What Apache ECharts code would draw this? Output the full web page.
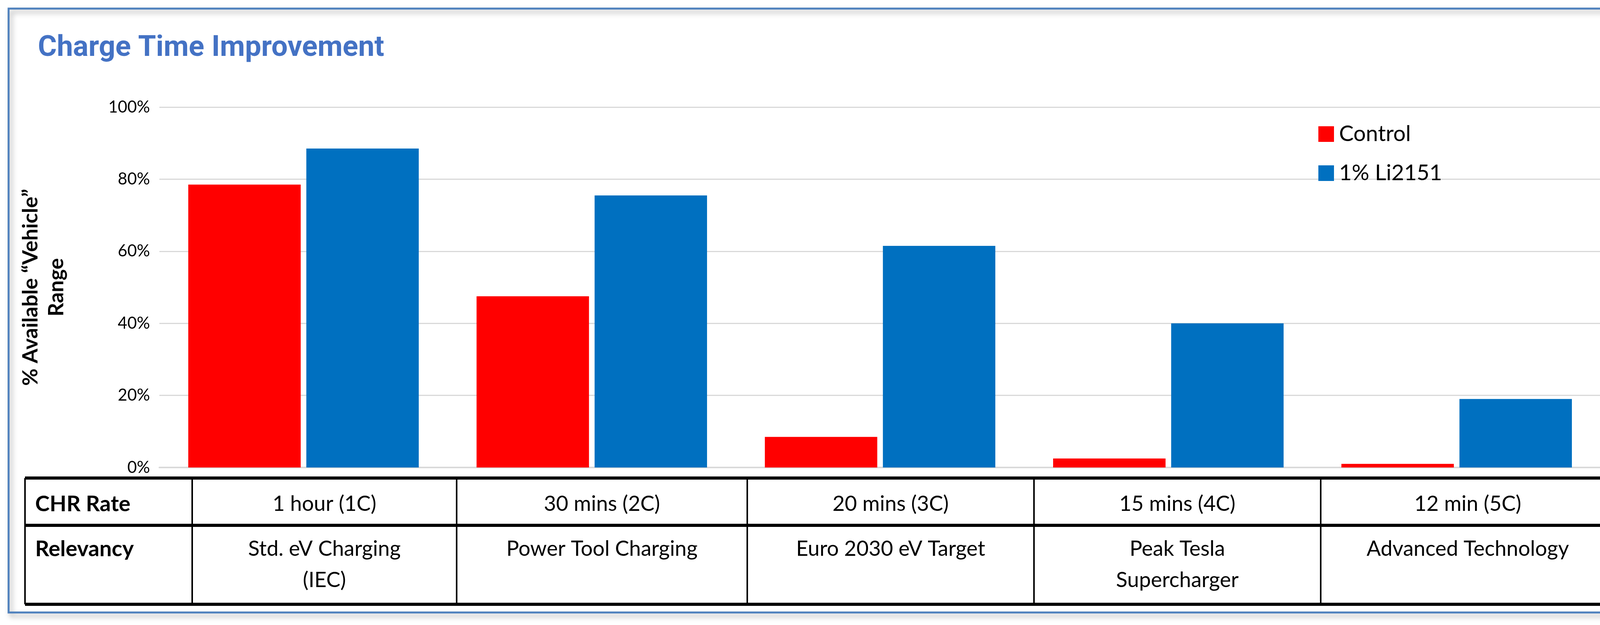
<!DOCTYPE html>
<html>
<head>
<meta charset="utf-8">
<script src="https://cdn.jsdelivr.net/npm/echarts@6/dist/echarts.min.js"></script>
<style>
  html, body { margin: 0; padding: 0; background: #fff; overflow: hidden; }
  #chart { width: 4214px; height: 1599px; }
</style>
</head>
<body>
<div id="chart"></div>
<script>
// 数据
const categories = ['1 hour (1C)', '30 mins (2C)', '20 mins (3C)', '15 mins (4C)', '12 min (5C)'];
const controlValues = [78.5, 47.5, 8.5, 2.5, 1];
const liValues = [88.5, 75.5, 61.5, 40, 19];
const yTicks = [0, 20, 40, 60, 80, 100];
const rowHeaders = ['CHR Rate', 'Relevancy'];
const relevancy = ['Std. eV Charging\n(IEC)', 'Power Tool Charging', 'Euro 2030 eV Target', 'Peak Tesla\nSupercharger', 'Advanced Technology'];

var chart = echarts.init(document.getElementById('chart'));

// 表格布局
const tblLeft = 64, tblRight = 4134, tblTop = 1223, tblMid = 1344, tblBottom = 1546;
const colX = [64, 492, 1169, 1913, 2647, 3381, 4134];
const font = 'Lato, "Open Sans", sans-serif';

var graphics = [
  // 外框
  { type: 'rect', shape: { x: 22, y: 22, width: 4160, height: 1545 },
    style: { fill: null, stroke: '#4f81bd', lineWidth: 5, shadowColor: 'rgba(0,0,0,0.35)', shadowBlur: 14, shadowOffsetX: 6, shadowOffsetY: 8 }, z: -1 }
];
[tblTop, tblMid, tblBottom].forEach(function (y) {
  graphics.push({ type: 'line', shape: { x1: tblLeft, y1: y, x2: tblRight, y2: y }, style: { stroke: '#000', lineWidth: 8 } });
});
colX.forEach(function (x) {
  graphics.push({ type: 'line', shape: { x1: x, y1: tblTop, x2: x, y2: tblBottom }, style: { stroke: '#000', lineWidth: 4 } });
});
rowHeaders.forEach(function (t, i) {
  graphics.push({ type: 'text', x: 90, y: i === 0 ? 1290 : 1405,
    style: { text: t, font: 'bold 56px ' + font, fill: '#000', verticalAlign: 'middle' } });
});
categories.forEach(function (c, i) {
  var cx = (colX[i + 1] + colX[i + 2]) / 2;
  graphics.push({ type: 'text', x: cx, y: 1290,
    style: { text: c, font: '54px ' + font, fill: '#000', align: 'center', verticalAlign: 'middle' } });
  graphics.push({ type: 'text', x: cx, y: 1365,
    style: { text: relevancy[i], font: '54px ' + font, fill: '#000', align: 'center', verticalAlign: 'top', lineHeight: 80 } });
});

const option = {
  title: {
    text: 'Charge Time Improvement', left: 92, top: 82,
    textStyle: { color: '#4472c4', fontSize: 74, fontWeight: 'bold', fontFamily: 'Roboto, sans-serif' }
  },
  legend: {
    orient: 'vertical', left: 3370, top: 310, itemWidth: 40, itemHeight: 40, itemGap: 44,
    icon: 'rect', textStyle: { fontSize: 56, fontFamily: font, color: '#000', padding: [0, 0, 0, 8] }
  },
  grid: { left: 408, right: 116, top: 274, bottom: 403 },
  xAxis: {
    type: 'category', data: categories,
    axisLine: { lineStyle: { color: '#d9d9d9', width: 4 } },
    axisTick: { show: false }, axisLabel: { show: false }
  },
  yAxis: {
    type: 'value', min: 0, max: 100, interval: 20,
    name: '% Available “Vehicle”\nRange', nameLocation: 'middle', nameGap: 230, nameRotate: 90,
    nameTextStyle: { fontSize: 54, fontWeight: 'bold', fontFamily: font, color: '#000', lineHeight: 66 },
    axisLabel: { formatter: function (v) { return yTicks.indexOf(v) >= 0 ? v + '%' : ''; },
      fontSize: 42, fontFamily: font, color: '#000', margin: 24 },
    splitLine: { lineStyle: { color: '#d9d9d9', width: 3 } }
  },
  series: [
    { name: 'Control', type: 'bar', data: controlValues, barWidth: '39%', barGap: '5%',
      itemStyle: { color: '#ff0000' } },
    { name: '1% Li2151', type: 'bar', data: liValues, barWidth: '39%',
      itemStyle: { color: '#0070c0' } }
  ],
  graphic: graphics
};

chart.setOption(option);
window.addEventListener('resize', () => { chart.resize(); });
</script>
</body>
</html>
